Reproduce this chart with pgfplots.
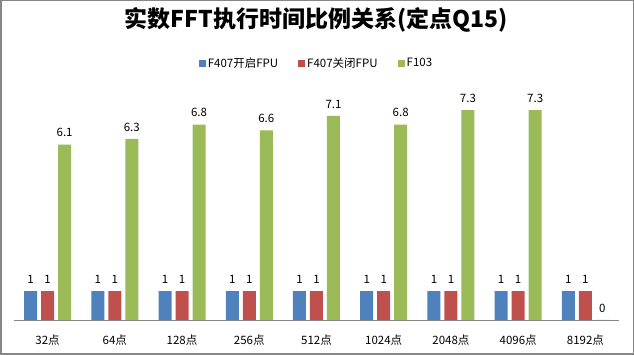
\documentclass[border=0pt]{standalone}
\usepackage{pgfplots}
\pgfplotsset{compat=1.18}
\usepackage{fontspec}
\setmainfont{Noto Sans CJK SC}
\definecolor{cblue}{HTML}{4F81BD}
\definecolor{cred}{HTML}{C0504D}
\definecolor{cgreen}{HTML}{9BBB59}
\definecolor{cframe}{HTML}{878787}
\begin{document}
\begin{tikzpicture}[x=1pt,y=1pt]
\useasboundingbox (0,0) rectangle (634,355);
\fill[white] (0,0) rectangle (634,355);
\draw[cframe, line width=1.5pt] (0.75,0.75) rectangle (633.25,354.25);
\begin{axis}[
  at={(14pt,35pt)}, anchor=south west,
  scale only axis, width=605pt, height=230pt,
  ymin=0, ymax=8, xmin=-0.5, xmax=8.5,
  ybar=4pt, bar width=13pt,
  axis y line=none, axis x line*=bottom,
  x axis line style={-, draw=cframe, line width=0.8pt},
  xtick={0,...,8},
  xticklabels={32点,64点,128点,256点,512点,1024点,2048点,4096点,8192点},
  xtick style={draw=none},
  xticklabel style={font=\fontsize{11.5}{13}\selectfont, yshift=-7pt},
  /pgf/number format/assume math mode=true,
  nodes near coords,
  nodes near coords style={font=\fontsize{11.5}{13}\selectfont, yshift=4pt, text=black},
  title={实数FFT执行时间比例关系(定点Q15)},
  title style={at={(0.5,1.278)}, anchor=center, font=\bfseries\fontsize{23}{28}\selectfont},
  legend style={at={(0.5,1.117)}, anchor=center, draw=none, legend columns=3,
    font=\fontsize{11.5}{13}\selectfont,
    /tikz/every even column/.append style={column sep=18pt},
    legend cell align=left},
  legend image code/.code={\fill[#1] (0pt,-3.5pt) rectangle (7pt,3.5pt);},
]
\addplot[fill=cblue, draw=none] coordinates {(0,1) (1,1) (2,1) (3,1) (4,1) (5,1) (6,1) (7,1) (8,1)};
\addplot[fill=cred, draw=none] coordinates {(0,1) (1,1) (2,1) (3,1) (4,1) (5,1) (6,1) (7,1) (8,1)};
\addplot[fill=cgreen, draw=none] coordinates {(0,6.1) (1,6.3) (2,6.8) (3,6.6) (4,7.1) (5,6.8) (6,7.3) (7,7.3) (8,0)};
\legend{F407开启FPU, F407关闭FPU, F103}
\end{axis}
\end{tikzpicture}
\end{document}
